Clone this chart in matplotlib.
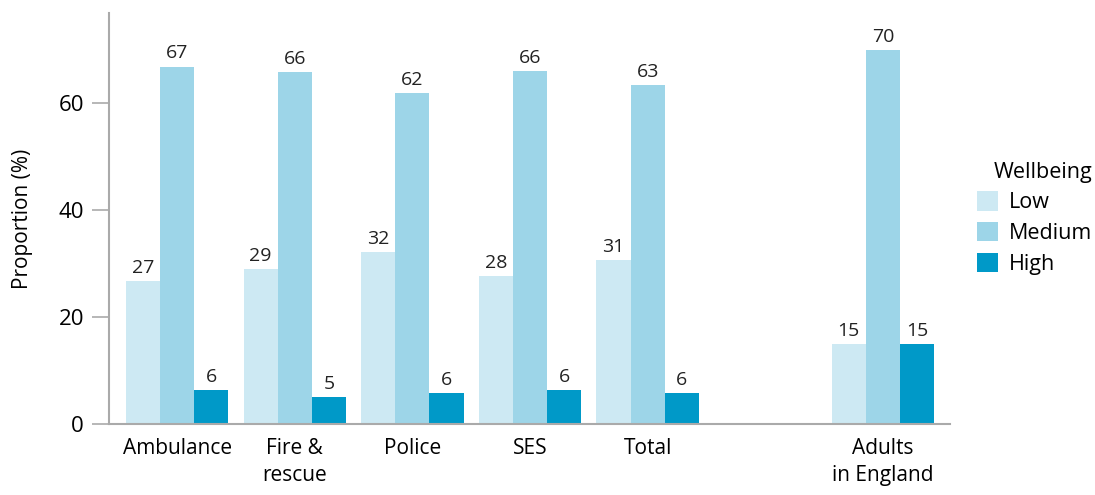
import matplotlib.pyplot as plt
import numpy as np

plt.rcParams['font.family'] = ['Open Sans', 'DejaVu Sans']

groups = ['Ambulance', 'Fire &\nrescue', 'Police', 'SES', 'Total', 'Adults\nin England']
positions = [0, 1, 2, 3, 4, 6]
low = [26.7, 28.9, 32.2, 27.7, 30.7, 14.9]
medium = [66.8, 65.8, 61.9, 65.9, 63.3, 69.9]
high = [6.3, 5.0, 5.8, 6.3, 5.8, 14.9]

colors = ['#cde9f3', '#9dd5e8', '#0099c8']
w = 0.29

def main():
    fig = plt.figure(figsize=(10.95, 4.95), dpi=100)
    ax = fig.add_axes([0.0995, 0.1434, 0.768, 0.830])
    x = np.array(positions)
    for i, (vals, lab) in enumerate(zip([low, medium, high], ['Low', 'Medium', 'High'])):
        bars = ax.bar(x + (i - 1) * w, vals, w, color=colors[i], label=lab)
        ax.bar_label(bars, fmt='%.0f', padding=3, fontsize=14, color='#222222')

    ax.set_xlim(-0.58, 6.57)
    ax.set_ylim(0, 76.8)
    ax.set_yticks([0, 20, 40, 60])
    ax.set_xticks(positions)
    ax.set_xticklabels(groups, fontsize=15, linespacing=1.35)
    ax.tick_params(axis='x', length=0, pad=10)
    ax.tick_params(axis='y', labelsize=16, length=12, width=1.2, color='#aaaaaa', pad=6)
    for s in ['top', 'right']:
        ax.spines[s].set_visible(False)
    for s in ['left', 'bottom']:
        ax.spines[s].set_color('#aaaaaa')
        ax.spines[s].set_linewidth(1.5)
    ax.set_ylabel('Proportion (%)', fontsize=15, labelpad=18)

    leg = fig.legend(title='Wellbeing', loc='upper left', bbox_to_anchor=(0.888, 0.682),
                     frameon=False, fontsize=15.5, title_fontsize=15.5,
                     handlelength=1.0, handleheight=1.0, handletextpad=0.5, labelspacing=0.4,
                     borderaxespad=0, borderpad=0.2)
    leg._legend_box.align = 'right'
    fig.savefig('out.png', dpi=100)

if __name__ == "__main__":
    main()
